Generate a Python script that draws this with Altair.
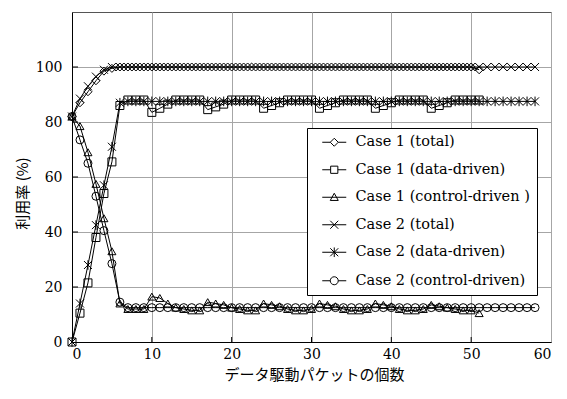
import altair as alt
import pandas as pd

labels = [
    "Case 1 (total)",
    "Case 1 (data-driven)",
    "Case 1 (control-driven )",
    "Case 2 (total)",
    "Case 2 (data-driven)",
    "Case 2 (control-driven)",
]

x_case1 = list(range(52))
x_case2 = list(range(59))

c1_total = [82, 87, 91, 95, 98.5, 99.5, 100, 100, 100, 100,
            100, 100, 100, 100, 100, 100, 100, 100, 100, 100,
            100, 100, 100, 100, 100, 100, 100, 100, 100, 100,
            100, 100, 100, 100, 100, 100, 100, 100, 100, 100,
            100, 100, 100, 100, 100, 100, 100, 100, 100, 100,
            100, 99]
c1_data = [0, 10.5, 21.5, 38, 54, 65.5, 86, 88, 88, 88,
           83.5, 85, 86.5, 88, 88, 88, 88, 84.5, 85.5, 86.5,
           88, 88, 88, 88, 85, 86, 87, 88, 88, 88,
           88, 85, 86, 87, 88, 88, 88, 88, 85, 86,
           87, 88, 88, 88, 88, 85, 86, 87, 88, 88,
           88, 88]
c1_ctrl = [82, 78.5, 69, 57.5, 45, 33, 14, 12, 12, 12,
           16.5, 16, 14, 12.5, 12, 11.5, 11.5, 14.5, 14, 13.5,
           12.5, 12, 11.5, 11.5, 14, 13.5, 13, 12, 11.5, 11.5,
           12, 14, 13.5, 13, 12, 11.5, 11.5, 12, 14, 13.5,
           13, 12, 11.5, 11.5, 12, 13.5, 13, 12.5, 12, 11.5,
           11.5, 10.5]

c2_total = [82, 88.5, 93, 96.5, 99, 100, 100, 100, 100, 100,
            100, 100, 100, 100, 100, 100, 100, 100, 100, 100,
            100, 100, 100, 100, 100, 100, 100, 100, 100, 100,
            100, 100, 100, 100, 100, 100, 100, 100, 100, 100,
            100, 100, 100, 100, 100, 100, 100, 100, 100, 100,
            100, 100, 100, 100, 100, 100, 100, 100, 100]
c2_data = [0, 14, 28, 42.5, 57, 71, 87, 87.5, 87.5, 87.5,
           87.5, 87.5, 87.5, 87.5, 87.5, 87.5, 87.5, 87.5, 87.5, 87.5,
           87.5, 87.5, 87.5, 87.5, 87.5, 87.5, 87.5, 87.5, 87.5, 87.5,
           87.5, 87.5, 87.5, 87.5, 87.5, 87.5, 87.5, 87.5, 87.5, 87.5,
           87.5, 87.5, 87.5, 87.5, 87.5, 87.5, 87.5, 87.5, 87.5, 87.5,
           87.5, 87.5, 87.5, 87.5, 87.5, 87.5, 87.5, 87.5, 87.5]
c2_ctrl = [82, 73.5, 65, 53, 40.5, 28.5, 14.5, 12.5, 12.5, 12.5,
           12.5, 12.5, 12.5, 12.5, 12.5, 12.5, 12.5, 12.5, 12.5, 12.5,
           12.5, 12.5, 12.5, 12.5, 12.5, 12.5, 12.5, 12.5, 12.5, 12.5,
           12.5, 12.5, 12.5, 12.5, 12.5, 12.5, 12.5, 12.5, 12.5, 12.5,
           12.5, 12.5, 12.5, 12.5, 12.5, 12.5, 12.5, 12.5, 12.5, 12.5,
           12.5, 12.5, 12.5, 12.5, 12.5, 12.5, 12.5, 12.5, 12.5]

x_ticks = [0, 10, 20, 30, 40, 50, 60]
y_ticks = [0, 20, 40, 60, 80, 100]
x_inner_ticks = [10, 20, 30, 40, 50]
y_inner_ticks = [20, 40, 60, 80, 100]

rows = []
for name, xs, ys in [
    (labels[0], x_case1, c1_total),
    (labels[1], x_case1, c1_data),
    (labels[2], x_case1, c1_ctrl),
    (labels[3], x_case2, c2_total),
    (labels[4], x_case2, c2_data),
    (labels[5], x_case2, c2_ctrl),
]:
    for xv, yv in zip(xs, ys):
        rows.append({"x": xv, "y": yv, "series": name})
df = pd.DataFrame(rows)

marker_shapes = [
    "diamond",
    "square",
    "triangle-up",
    "M-1,-1L1,1M-1,1L1,-1",
    "M-1,-1L1,1M-1,1L1,-1M0,-1.2L0,1.2",
    "circle",
]
legend_shapes = [
    "M-3,0L-1,0M1,0L3,0M0,-1L1,0L0,1L-1,0Z",
    "M-3,0L-0.9,0M0.9,0L3,0M-0.9,-0.9L0.9,-0.9L0.9,0.9L-0.9,0.9Z",
    "M-3,0L3,0M0,-1L1,0.8L-1,0.8Z",
    "M-3,0L3,0M-1,-1L1,1M-1,1L1,-1",
    "M-3,0L3,0M-1,-1L1,1M-1,1L1,-1M0,-1.2L0,1.2",
    "M-3,0L-1,0M1,0L3,0M1,0A1,1,0,1,1,-1,0A1,1,0,1,1,1,0Z",
]

SERIF = "DejaVu Serif"

xscale = alt.Scale(domain=[0, 60], nice=False, zero=False)
yscale = alt.Scale(domain=[0, 120], nice=False)

x_axis = alt.Axis(values=x_ticks, title="データ駆動パケットの個数",
                  titleX=242, titleY=32, titleBaseline="middle")
y_axis = alt.Axis(values=y_ticks, title="利用率 (%)",
                  titleX=-50, titleY=181, titleBaseline="middle",
                  titleAngle=-90, titleAlign="center")

x_enc = alt.X("x:Q", scale=xscale, axis=x_axis)
y_enc = alt.Y("y:Q", scale=yscale, axis=y_axis)

lines = alt.Chart(df).mark_line(color="black", strokeWidth=1).encode(
    x=x_enc, y=y_enc, detail="series:N", order="x:Q"
)

points = alt.Chart(df).mark_point(
    filled=False, color="black", strokeWidth=1, size=64, opacity=1
).encode(
    x=x_enc, y=y_enc,
    shape=alt.Shape("series:N", scale=alt.Scale(domain=labels, range=marker_shapes), legend=None),
)

legend_layer = alt.Chart(df).transform_filter("false").mark_point(
    filled=False, color="black", strokeWidth=1, size=64, opacity=1
).encode(
    x=x_enc, y=y_enc,
    shape=alt.Shape(
        "series:N",
        scale=alt.Scale(domain=labels, range=legend_shapes),
        legend=alt.Legend(
            title=None, orient="none", legendX=235, legendY=116,
            padding=7, strokeColor="black", fillColor="white",
            symbolSize=64, symbolStrokeColor="black", symbolStrokeWidth=1,
            symbolFillColor="transparent", symbolOffset=13, labelOffset=14,
            labelFont=SERIF, labelFontSize=14.5, labelColor="black",
            labelLimit=400, rowPadding=12.5, cornerRadius=0,
        ),
    ),
)

ytick_df = pd.DataFrame({"yt": y_inner_ticks})
xtick_df = pd.DataFrame({"xt": x_inner_ticks})
ytick_layer = alt.Chart(ytick_df).mark_rule(color="black", strokeWidth=1).encode(
    y=alt.Y("yt:Q", scale=yscale, axis=y_axis), x=alt.value(0), x2=alt.value(6)
)
xtick_layer = alt.Chart(xtick_df).mark_rule(color="black", strokeWidth=1).encode(
    x=alt.X("xt:Q", scale=xscale, axis=x_axis), y=alt.value(330), y2=alt.value(325)
)

chart = alt.layer(lines, points, legend_layer, ytick_layer, xtick_layer).resolve_scale(
    shape="independent"
).properties(
    width=479, height=330,
    autosize=alt.AutoSizeParams(type="none"),
    padding={"left": 64, "top": 4, "right": 8, "bottom": 45},
    background="white",
).configure_view(
    stroke="#555555", strokeWidth=1
).configure_axis(
    labelFont=SERIF, labelFontSize=14, labelColor="black",
    titleFont="Noto Sans CJK JP", titleFontSize=15, titleFontWeight="normal",
    titleColor="black",
    domainColor="black", domainWidth=1,
    ticks=False, gridColor="#a6a6a6", gridWidth=1, gridOpacity=1,
).configure_axisY(
    labelPadding=10, domain=True
).configure_axisX(
    labelPadding=5
)

chart.save("out.html", embed_options={"renderer": "svg", "actions": False})
